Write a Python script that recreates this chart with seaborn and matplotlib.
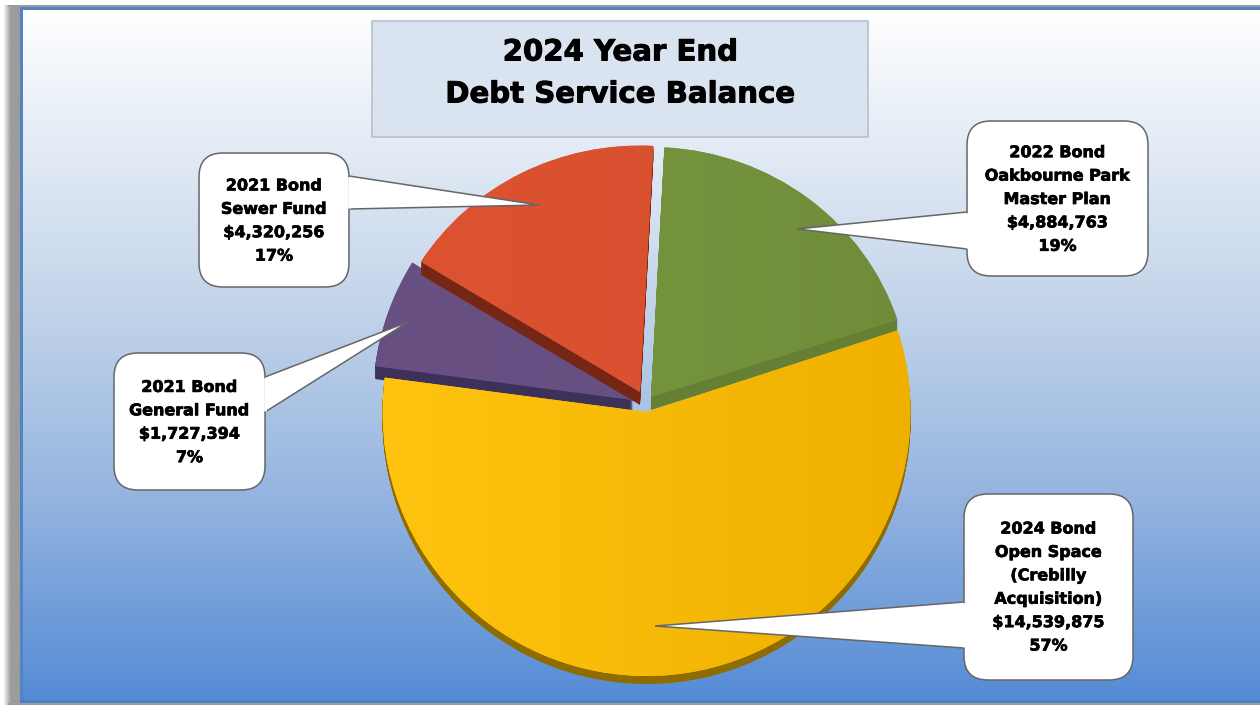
import numpy as np
import matplotlib
matplotlib.use('Agg')
import matplotlib.pyplot as plt
import matplotlib.patheffects as pe
from matplotlib.colors import LinearSegmentedColormap
from matplotlib.patches import FancyBboxPatch, Polygon, Rectangle
from matplotlib.transforms import Affine2D
import seaborn as sns

# data, clockwise from the yellow slice
funds = ['2024 Bond\nOpen Space\n(Crebilly\nAcquisition)',
         '2021 Bond\nGeneral Fund',
         '2021 Bond\nSewer Fund',
         '2022 Bond\nOakbourne Park\nMaster Plan']
balances = [14539875, 1727394, 4320256, 4884763]
percents = ['57%', '7%', '17%', '19%']
title_lines = ['2024 Year End', 'Debt Service Balance']

W, H = 1260, 705

def fy(py):
    return H - py

sns.set_theme(style='white')
plt.rcParams['font.family'] = ['DejaVu Sans']

left_cols = sns.color_palette(['#FFC40F', '#685083', '#DD5331', '#7A9A40'])
right_cols = sns.color_palette(['#EFB000', '#644E80', '#D64F2F', '#708C3A'])
side_cols = sns.color_palette(['#8F6C00', '#3D3059', '#752614', '#657F34'])

fig = plt.figure(figsize=(12.6, 7.05), dpi=100)
ax = fig.add_axes([0, 0, 1, 1])

bg = LinearSegmentedColormap.from_list('bg', [(0, '#FFFFFF'), (0.42, '#C4D5EA'),
                                              (0.70, '#95B5E0'), (1, '#548BD5')])
ax.imshow(np.linspace(0, 1, 256).reshape(-1, 1), cmap=bg, aspect='auto',
          extent=(20, W, fy(703), fy(8)), zorder=0)
shadow = LinearSegmentedColormap.from_list('sh', [(0, '#FFFFFF'), (0.45, '#9C9C9C'), (1, '#9C9C9C')])
ax.imshow(np.linspace(0, 1, 32).reshape(1, -1), cmap=shadow, aspect='auto',
          extent=(3, 20, 0, fy(5)), zorder=0.1)
ax.add_patch(Rectangle((20, fy(10)), W, 3, fc='#5283C2', ec='none', zorder=0.2))
ax.add_patch(Rectangle((8, fy(7)), W, 2, fc='#9C9C9C', ec='none', zorder=0.2))
ax.add_patch(Rectangle((20, 0), 3, fy(7), fc='#5283C2', ec='none', zorder=0.2))
ax.add_patch(Rectangle((20, fy(703)), W, 3, fc='#4C7FC0', ec='none', zorder=0.2))
ax.add_patch(Rectangle((8, 0), W, 2, fc='#9C9C9C', ec='none', zorder=0.3))

# pie: every slice gets its own small shift, the chart is a tilted 3D one
centers = [(646.5, 412), (633, 400), (640, 392), (651, 397)]
radii = [264, 260, 258, 259]
squash = [1.0, 1.0, 0.955, 0.965]
depths = [8, 13, 13, 13]
draw_order = {1: 2, 2: 4, 3: 3, 0: 5}
max_depth = max(depths)
for d in range(max_depth, -1, -1):
    wedges, _ = ax.pie(balances, startangle=18, counterclock=False,
                       colors=side_cols if d else left_cols, radius=radii[0],
                       center=(647, fy(411)), wedgeprops={'linewidth': 0})
    for i, w in enumerate(wedges):
        cx, cy = centers[i][0], fy(centers[i][1] + d * depths[i] / max_depth)
        w.set_center((cx, cy))
        w.set_radius(radii[i])
        w.set_transform(Affine2D().translate(-cx, -cy).scale(1, squash[i]).translate(cx, cy)
                        + ax.transData)
        # faces go above their own side wall
        w.set_zorder(draw_order[i] + (0.5 if d == 0 else 0.1))
        if d == 0:
            grad = LinearSegmentedColormap.from_list('f', [left_cols[i], right_cols[i]])
            img = ax.imshow(np.linspace(0, 1, 128).reshape(1, -1), cmap=grad, aspect='auto',
                            extent=(cx - 263, cx + 263, 0, H),
                            zorder=draw_order[i] + 0.6)
            img.set_clip_path(w)

# title box
ax.add_patch(Rectangle((372, fy(137)), 496, 116, fc='#DAE4F1', ec='#B9C0C9', lw=1.2, zorder=6))
for line, y in zip(title_lines, [52.5, 94.5]):
    ax.text(620, fy(y), line, ha='center', va='center', fontsize=21,
            fontweight='bold', color='black', zorder=7,
            path_effects=[pe.withStroke(linewidth=0.7, foreground='black')])

# callouts: box, tip, base of the tip on the box edge, text centre
callouts = [
    ((964, 494, 169, 186), (655, 626), ((964, 602), (964, 648)), 587.5),
    ((114, 353, 151, 137), (408, 322), ((265, 377), (265, 412)), 422.5),
    ((199, 153, 150, 134), (539, 205), ((349, 176), (349, 209)), 221),
    ((967, 121, 181, 155), (797, 229), ((967, 212), (967, 249)), 199.5),
]
for i, ((x, y, w, h), tip, base, ty) in enumerate(callouts):
    ax.add_patch(FancyBboxPatch((x, fy(y + h)), w, h, boxstyle='round,pad=0,rounding_size=24',
                                fc='white', ec='#666666', lw=1.1, zorder=8))
    pts = [(base[0][0], fy(base[0][1])), (tip[0], fy(tip[1])), (base[1][0], fy(base[1][1]))]
    ax.add_patch(Polygon(pts, closed=False, fc='white', ec='#666666', lw=1.1, zorder=8.1))
    ax.plot([base[0][0], base[1][0]], [fy(base[0][1] + 1), fy(base[1][1] - 1)],
            color='white', lw=2, solid_capstyle='butt', zorder=8.2)
    label = f'{funds[i]}\n${balances[i]:,}\n{percents[i]}'
    ax.text(x + w / 2, fy(ty), label, ha='center', va='center', fontsize=11.5,
            fontweight='bold', color='black', linespacing=1.70, zorder=9,
            path_effects=[pe.withStroke(linewidth=0.5, foreground='black')])

ax.set_xlim(0, W)
ax.set_ylim(0, H)
ax.set_aspect('auto')
ax.axis('off')
fig.savefig('out.png', dpi=100)
plt.close(fig)
